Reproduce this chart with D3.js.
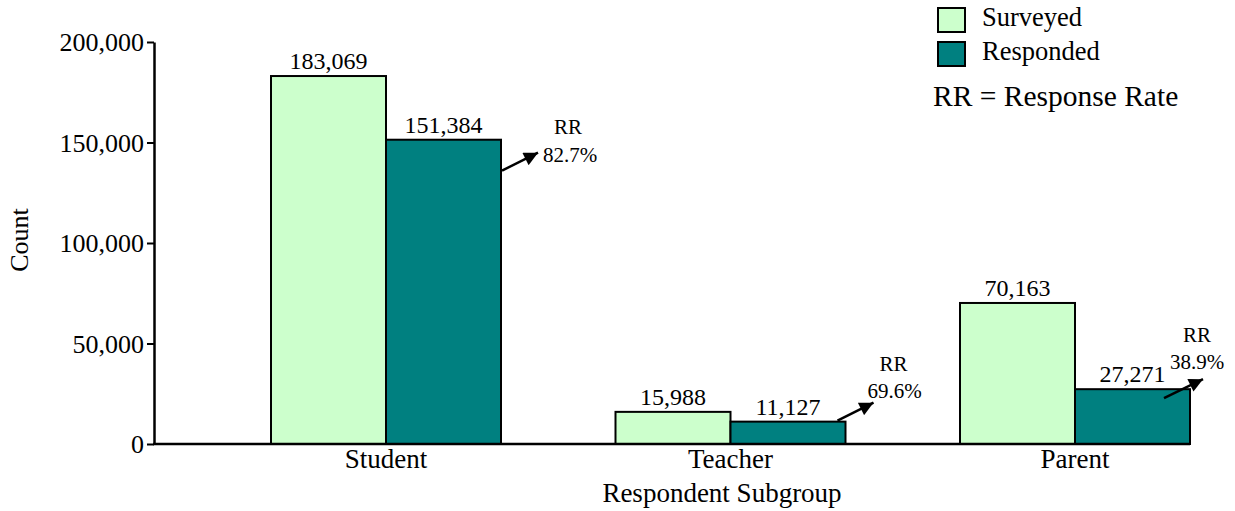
<!DOCTYPE html>
<html>
<head>
<meta charset="utf-8" />
<title>Respondent Subgroup</title>
<script src="https://cdn.jsdelivr.net/npm/d3@7/dist/d3.min.js"></script>
<style>
body { margin: 0; background: #fff; }
svg text { font-family: "Liberation Serif", "Times New Roman", serif; fill: #000; }
</style>
</head>
<body>
<div id="chart"></div>
<script>
// data
const categories = ["Student", "Teacher", "Parent"];
const series = ["Surveyed", "Responded"];
const surveyed = [183069, 15988, 70163];
const responded = [151384, 11127, 27271];
const rates = ["82.7%", "69.6%", "38.9%"];
const yTicks = [0, 50000, 100000, 150000, 200000];

const colors = { Surveyed: "#ccffcc", Responded: "#008080" };

// hand placed RR call-outs, offsets from the top right corner of the responded bar
const rrLayout = [
	{ x0: 1, y0: 31, x1: 37, y1: 13, tx: 67, ty: -6, px: 69, py: 22 },
	{ x0: -8, y0: -1, x1: 28, y1: -19, tx: 48, ty: -51, px: 49, py: -24 },
	{ x0: -26, y0: 9, x1: 13, y1: -10, tx: 7, ty: -47, px: 7, py: -20 }
];

const width = 1235, height = 511;
const axisLeft = 154, axisRight = 1190, y0 = 444, yTop = 42;

const svg = d3.select("#chart").append("svg")
	.attr("width", width)
	.attr("height", height);

const x = d3.scalePoint().domain(categories).range([386, 1075]);
const xs = d3.scaleBand().domain(series).range([-115, 115]);
const y = d3.scaleLinear().domain([0, 200000]).range([y0, yTop]);

const rows = categories.map((c, i) => ({ cat: c, Surveyed: surveyed[i], Responded: responded[i], rr: rates[i], lay: rrLayout[i] }));

svg.append("defs").append("marker")
	.attr("id", "arrow")
	.attr("viewBox", "0 0 10 10")
	.attr("refX", 10).attr("refY", 5)
	.attr("markerWidth", 16).attr("markerHeight", 14)
	.attr("markerUnits", "userSpaceOnUse")
	.attr("orient", "auto")
	.append("path").attr("d", "M0,0L10,5L0,10Z").attr("fill", "#000");

// bars
const groups = svg.append("g").selectAll("g")
	.data(rows).enter().append("g")
	.attr("transform", d => "translate(" + x(d.cat) + ",0)");

groups.selectAll("rect")
	.data(d => series.map(s => ({ s: s, v: d[s] })))
	.enter().append("rect")
	.attr("x", d => xs(d.s))
	.attr("y", d => y(d.v))
	.attr("width", xs.bandwidth())
	.attr("height", d => y0 - y(d.v))
	.attr("fill", d => colors[d.s])
	.attr("stroke", "#000")
	.attr("stroke-width", 2);

groups.selectAll("text.val")
	.data(d => series.map(s => ({ s: s, v: d[s] })))
	.enter().append("text")
	.attr("class", "val")
	.attr("x", d => xs(d.s) + xs.bandwidth() / 2)
	.attr("y", d => y(d.v) - 7)
	.attr("text-anchor", "middle")
	.attr("font-size", 24)
	.text(d => d3.format(",")(d.v));

// RR call-outs
groups.each(function(d) {
	const g = d3.select(this);
	const bx = xs("Responded") + xs.bandwidth();
	const by = y(d.Responded);
	const L = d.lay;
	g.append("line")
		.attr("x1", bx + L.x0).attr("y1", by + L.y0)
		.attr("x2", bx + L.x1).attr("y2", by + L.y1)
		.attr("stroke", "#000").attr("stroke-width", 2.5)
		.attr("marker-end", "url(#arrow)");
	g.append("text")
		.attr("x", bx + L.tx).attr("y", by + L.ty)
		.attr("text-anchor", "middle").attr("font-size", 21)
		.text("RR");
	g.append("text")
		.attr("x", bx + L.px).attr("y", by + L.py)
		.attr("text-anchor", "middle").attr("font-size", 21)
		.text(d.rr);
});

// y axis
const yAxis = svg.append("g")
	.attr("transform", "translate(" + axisLeft + ",0)")
	.call(d3.axisLeft(y).tickValues(yTicks).tickFormat(d3.format(",")).tickSize(7).tickSizeOuter(0));
yAxis.select(".domain").attr("stroke-width", 2.5);
yAxis.selectAll(".tick line").attr("stroke-width", 2);
yAxis.selectAll(".tick text")
	.attr("font-size", 26)
	.attr("x", -10)
	.attr("dy", "0.34em");

// x axis
svg.append("line")
	.attr("x1", axisLeft - 1).attr("x2", axisRight)
	.attr("y1", y0).attr("y2", y0)
	.attr("stroke", "#000").attr("stroke-width", 2.5);

svg.append("g").selectAll("text")
	.data(categories).enter().append("text")
	.attr("x", d => x(d))
	.attr("y", 468)
	.attr("text-anchor", "middle")
	.attr("font-size", 27)
	.text(d => d);

svg.append("text")
	.attr("x", 722).attr("y", 502)
	.attr("text-anchor", "middle").attr("font-size", 27)
	.text("Respondent Subgroup");

svg.append("text")
	.attr("transform", "translate(28,240) rotate(-90)")
	.attr("text-anchor", "middle").attr("font-size", 26)
	.text("Count");

// legend
const legend = svg.append("g").selectAll("g")
	.data(series).enter().append("g")
	.attr("transform", (d, i) => "translate(938," + (8 + i * 34) + ")");
legend.append("rect")
	.attr("width", 27).attr("height", 24)
	.attr("fill", d => colors[d])
	.attr("stroke", "#000").attr("stroke-width", 2);
legend.append("text")
	.attr("x", 44).attr("y", 18)
	.attr("font-size", 26.5)
	.text(d => d);

svg.append("text")
	.attr("x", 933).attr("y", 106)
	.attr("font-size", 29.5)
	.text("RR = Response Rate");
</script>
</body>
</html>
